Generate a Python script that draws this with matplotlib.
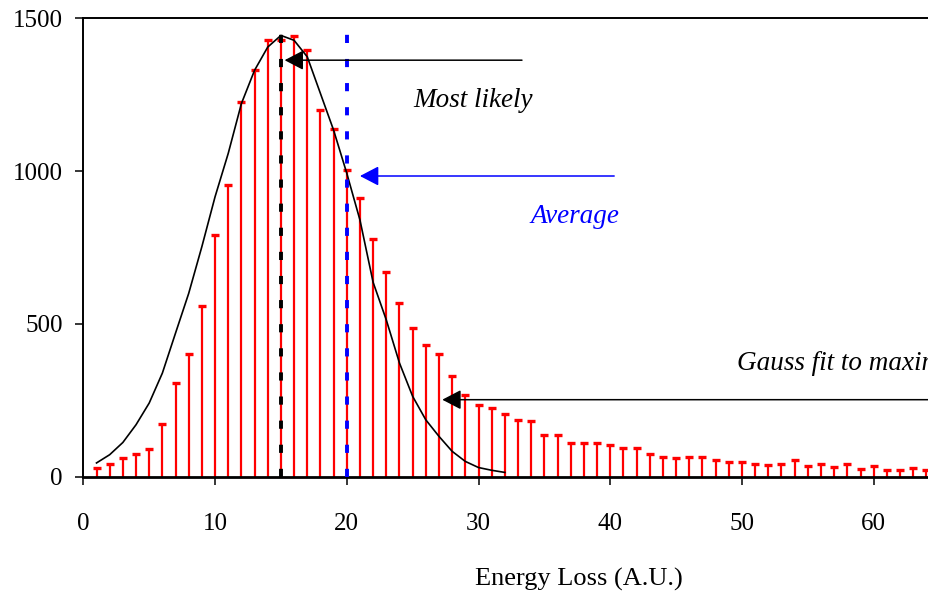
import matplotlib
matplotlib.use('Agg')
import matplotlib.pyplot as plt
import numpy as np

plt.rcParams['font.family'] = ['Liberation Serif', 'DejaVu Serif']

# measured energy loss histogram (one bin per unit)
energy = np.arange(1, 65)
counts = [28, 41, 60, 73, 91, 173, 306, 401, 559, 791,
          955, 1226, 1332, 1428, 1428, 1441, 1395, 1201, 1138, 1005,
          911, 779, 671, 570, 488, 431, 401, 331, 268, 235,
          224, 205, 186, 181, 135, 135, 110, 110, 110, 105,
          94, 94, 74, 66, 61, 66, 66, 55, 48, 48,
          41, 37, 41, 55, 36, 41, 32, 41, 25, 34,
          23, 23, 30, 23]

# gauss fit to the maximum
fit_x = np.arange(1, 33)
fit_y = [45, 72, 112, 170, 241, 339, 470, 600, 753, 916,
         1058, 1221, 1330, 1406, 1444, 1428, 1374, 1254, 1134, 993,
         840, 636, 513, 372, 263, 186, 132, 83, 50, 30,
         21, 14]

most_likely = 15
average = 20

fig = plt.figure(figsize=(9.29, 5.91), dpi=100)
ax = fig.add_axes([0.0897, 0.1934, 0.9103, 0.7756])

# stems with small caps
ax.vlines(energy, 0, counts, color='red', lw=1.6, zorder=2)
ax.plot(energy, counts, ls='none', marker='_', ms=6, mew=2.4, color='red', zorder=3)

# fit curve
ax.plot(fit_x, fit_y, color='black', lw=1.2, zorder=4)

# most likely / average markers
ax.plot([most_likely, most_likely], [0, 1450], color='black', lw=2.8,
        dashes=(2.1, 4.1), zorder=5)
ax.plot([average, average], [0, 1455], color='blue', lw=2.8,
        dashes=(2.1, 4.1), zorder=5)

head = '-|>,head_length=1.15,head_width=0.6'
ax.annotate('', xy=(15.28, 1363), xytext=(33.3, 1363),
            arrowprops=dict(arrowstyle=head, mutation_scale=10, color='black',
                            lw=1.1, shrinkA=0, shrinkB=0), zorder=6)
ax.annotate('', xy=(21.0, 984), xytext=(40.3, 984),
            arrowprops=dict(arrowstyle=head, mutation_scale=10, color='blue',
                            lw=1.1, shrinkA=0, shrinkB=0), zorder=6)
ax.annotate('', xy=(27.25, 252), xytext=(70, 252),
            arrowprops=dict(arrowstyle=head, mutation_scale=10, color='black',
                            lw=1.1, shrinkA=0, shrinkB=0), zorder=6)

ax.text(29.6, 1210, 'Most likely', style='italic', fontsize=19.5,
        ha='center', va='baseline')
ax.text(37.35, 831, 'Average', style='italic', fontsize=19.5, color='blue',
        ha='center', va='baseline')
# runs off the right edge, as in the original
ax.text(49.65, 350, 'Gauss fit to maximum', style='italic', fontsize=19.5,
        ha='left', va='baseline')

ax.set_xlim(0, 64.2)
ax.set_ylim(0, 1500)
ax.set_xticks(range(0, 61, 10))
ax.set_yticks([0, 500, 1000, 1500])
ax.tick_params(direction='out', length=5.8, width=1.1, labelsize=18)
ax.tick_params(axis='x', pad=20)
ax.tick_params(axis='y', pad=9)

ax.spines['right'].set_visible(False)
for side in ['left', 'top']:
    ax.spines[side].set_linewidth(1.4)
ax.spines['bottom'].set_linewidth(2)

ax.set_xlabel('Energy Loss (A.U.)', fontsize=19)
ax.xaxis.set_label_coords((579 - 83.3) / (929 - 83.3), -0.2)

fig.savefig('out.png', dpi=100)
